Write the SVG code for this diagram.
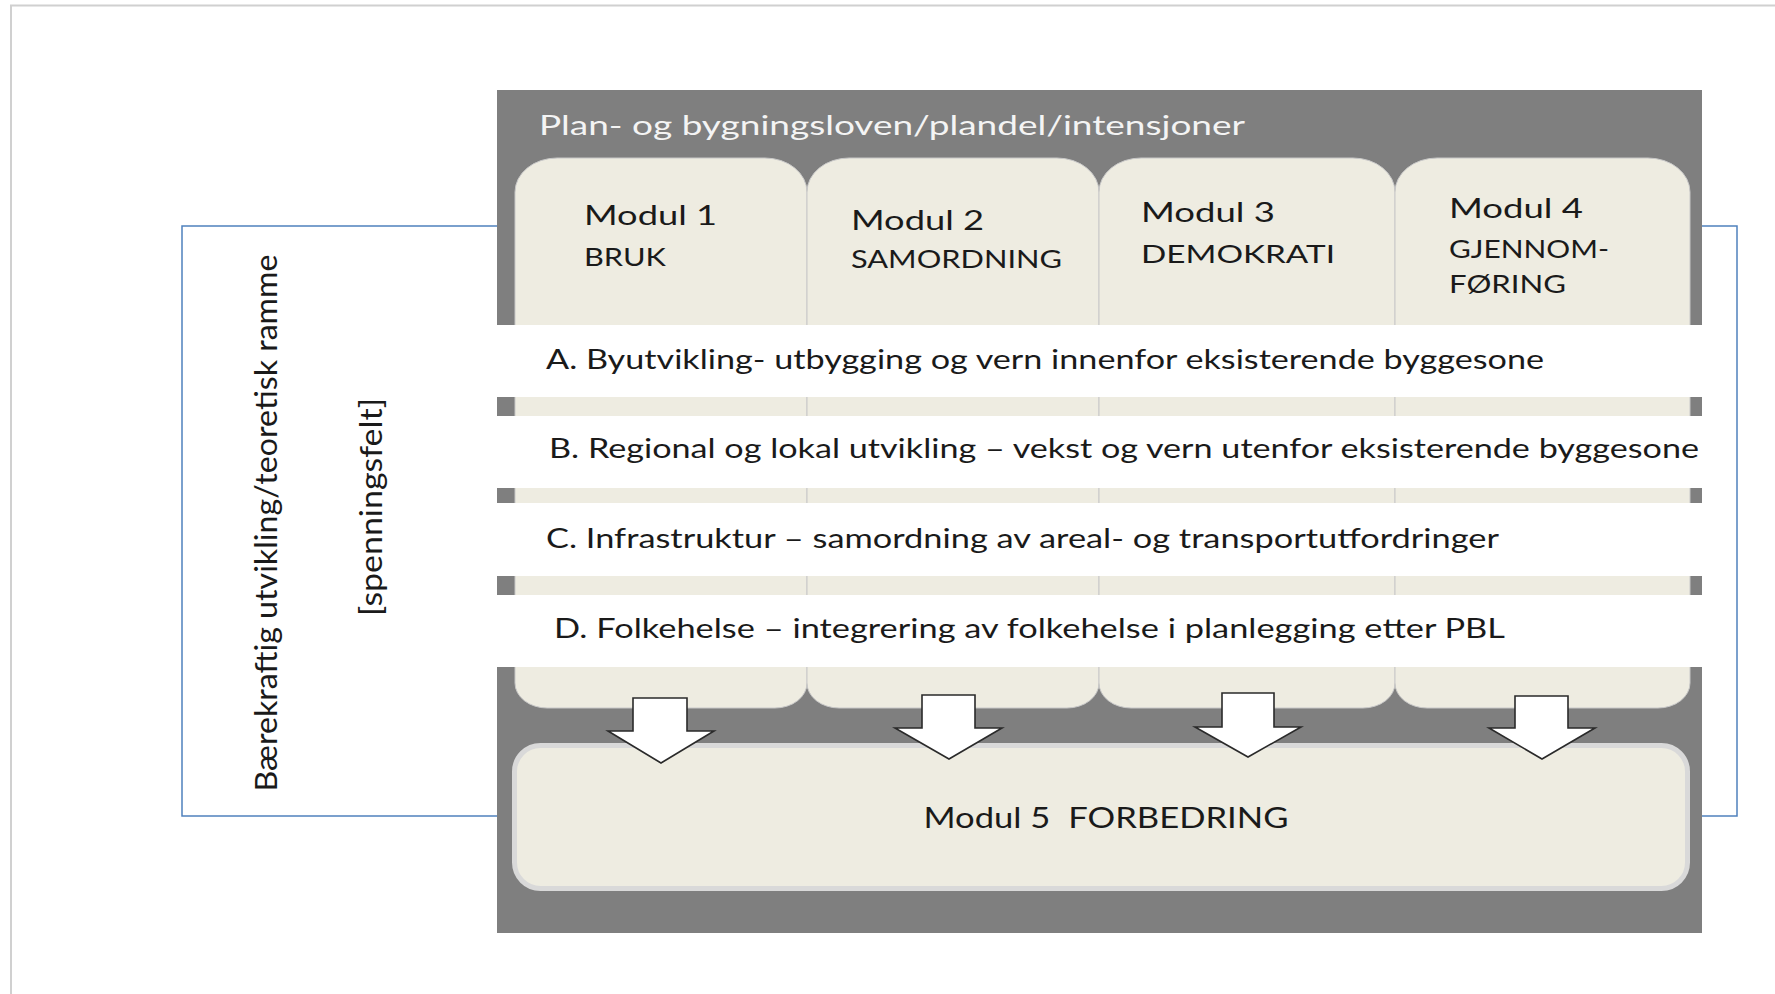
<svg xmlns="http://www.w3.org/2000/svg" width="1775" height="994" viewBox="0 0 1775 994">
<style>
.frame{fill:none;stroke:#d0d0d0;stroke-width:2}
.blue{fill:none;stroke:#4f81bd;stroke-width:1.5}
.gray{fill:#7f7f7f}
.tab{fill:#eeece1;stroke:#c8c8c8;stroke-width:1}
.band{fill:#ffffff}
.t{font-family:Lato,"Open Sans","Liberation Sans",sans-serif;fill:#1a1a1a}
.title{font-family:Lato,"Open Sans","Liberation Sans",sans-serif;fill:#f4f4f4;font-size:27px}
.mod{font-size:27px}
.cap{font-size:25px}
.row{font-size:27px}
.arrow{fill:#ffffff;stroke:#2a2a2a;stroke-width:1.6;stroke-linejoin:miter}
.m5{fill:#eeece1;stroke:#d9d9d9;stroke-width:5}
</style>
<rect width="1775" height="994" fill="#ffffff"/>
<g id="outer-frame">
<path class="frame" d="M11,994 V5.5 H1775"/>
</g>
<g id="frame-sustainability">
<rect class="blue" x="182" y="226" width="1555" height="590"/>
<text class="t" font-size="30" transform="translate(277,523) rotate(-90)" text-anchor="middle" textLength="537" lengthAdjust="spacingAndGlyphs">Bærekraftig utvikling/teoretisk ramme</text>
<text class="t" font-size="30" transform="translate(382,507) rotate(-90)" text-anchor="middle" textLength="218" lengthAdjust="spacingAndGlyphs">[spenningsfelt]</text>
</g>
<g id="pbl-container">
<rect class="gray" x="497" y="90" width="1205" height="843"/>
<text class="title" x="539" y="135" textLength="706" lengthAdjust="spacingAndGlyphs">Plan- og bygningsloven/plandel/intensjoner</text>
</g>
<g id="modul-1">
<path class="tab" d="M515,192 A42,34 0 0 1 557,158 H765 A42,34 0 0 1 807,192 V683 A32,25 0 0 1 775,708 H547 A32,25 0 0 1 515,683 Z"/>
<text class="t mod" x="584" y="225" textLength="133" lengthAdjust="spacingAndGlyphs">Modul 1</text>
<text class="t cap" x="584" y="266" textLength="82" lengthAdjust="spacingAndGlyphs">BRUK</text>
</g>
<g id="modul-2">
<path class="tab" d="M807,192 A42,34 0 0 1 849,158 H1057 A42,34 0 0 1 1099,192 V683 A32,25 0 0 1 1067,708 H839 A32,25 0 0 1 807,683 Z"/>
<text class="t mod" x="851" y="230" textLength="133" lengthAdjust="spacingAndGlyphs">Modul 2</text>
<text class="t cap" x="851" y="268" textLength="211" lengthAdjust="spacingAndGlyphs">SAMORDNING</text>
</g>
<g id="modul-3">
<path class="tab" d="M1099,192 A42,34 0 0 1 1141,158 H1353 A42,34 0 0 1 1395,192 V683 A32,25 0 0 1 1363,708 H1131 A32,25 0 0 1 1099,683 Z"/>
<text class="t mod" x="1141" y="222" textLength="134" lengthAdjust="spacingAndGlyphs">Modul 3</text>
<text class="t cap" x="1141" y="263" textLength="194" lengthAdjust="spacingAndGlyphs">DEMOKRATI</text>
</g>
<g id="modul-4">
<path class="tab" d="M1395,192 A42,34 0 0 1 1437,158 H1648 A42,34 0 0 1 1690,192 V683 A32,25 0 0 1 1658,708 H1427 A32,25 0 0 1 1395,683 Z"/>
<text class="t mod" x="1449" y="218" textLength="134" lengthAdjust="spacingAndGlyphs">Modul 4</text>
<text class="t cap" x="1449" y="258" textLength="160" lengthAdjust="spacingAndGlyphs">GJENNOM-</text>
<text class="t cap" x="1449" y="293" textLength="117" lengthAdjust="spacingAndGlyphs">FØRING</text>
</g>
<g id="row-a">
<rect class="band" x="497" y="325" width="1205" height="72"/>
<text class="t row" x="546" y="369" textLength="998" lengthAdjust="spacingAndGlyphs">A. Byutvikling- utbygging og vern innenfor eksisterende byggesone</text>
</g>
<g id="row-b">
<rect class="band" x="497" y="416" width="1205" height="72"/>
<text class="t row" x="549" y="458" textLength="1150" lengthAdjust="spacingAndGlyphs">B. Regional og lokal utvikling – vekst og vern utenfor eksisterende byggesone</text>
</g>
<g id="row-c">
<rect class="band" x="497" y="503" width="1205" height="73"/>
<text class="t row" x="546" y="548" textLength="953" lengthAdjust="spacingAndGlyphs">C. Infrastruktur – samordning av areal- og transportutfordringer</text>
</g>
<g id="row-d">
<rect class="band" x="497" y="595" width="1205" height="72"/>
<text class="t row" x="554" y="638" textLength="951" lengthAdjust="spacingAndGlyphs">D. Folkehelse – integrering av folkehelse i planlegging etter PBL</text>
</g>
<g id="modul-5">
<rect class="m5" x="514.5" y="745.5" width="1173" height="143" rx="26" ry="26"/>
<text class="t" font-size="28" x="1106" y="828" text-anchor="middle" textLength="365" lengthAdjust="spacingAndGlyphs" style="white-space:pre" xml:space="preserve">Modul 5  FORBEDRING</text>
</g>
<g id="connectors">
<path class="arrow" d="M633,698 H687 V731 H714 L661,763 L608,731 H633 Z"/>
<path class="arrow" d="M922,695 H975 V728 H1002 L949,759 L895,728 H922 Z"/>
<path class="arrow" d="M1222,693 H1274 V727 H1301 L1248,757 L1195,727 H1222 Z"/>
<path class="arrow" d="M1515,696 H1568 V728 H1595 L1542,759 L1489,728 H1515 Z"/>
</g>
</svg>
